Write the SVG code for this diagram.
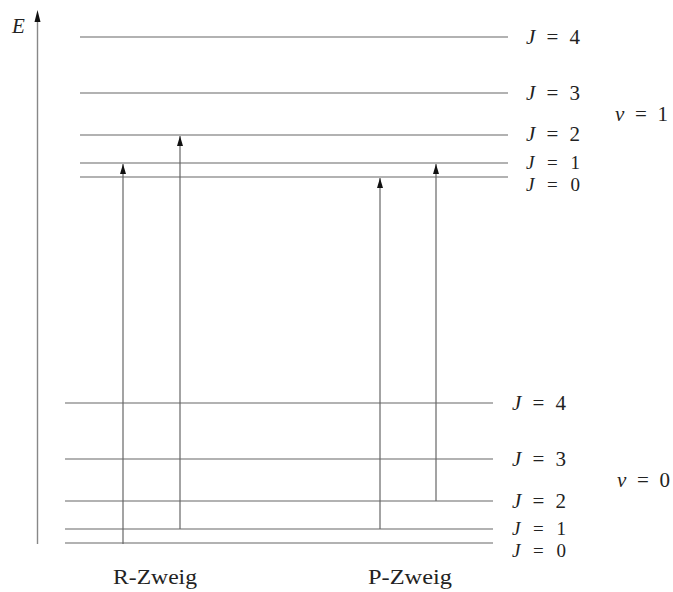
<svg xmlns="http://www.w3.org/2000/svg" width="673" height="592" viewBox="0 0 673 592">
<style>
.lv{stroke:#999;stroke-width:1.6;fill:none}
.lt{stroke:#666;stroke-width:1.1;fill:none}
.ar{stroke:#666;stroke-width:1.2;fill:none}
text{font-family:"Liberation Serif","DejaVu Serif",serif;font-size:21px;fill:#222}
.s{font-size:19px}
.i{font-style:italic}
</style>
<defs>
<marker id="ah" viewBox="0 0 10 6" markerWidth="10" markerHeight="6" refX="10" refY="3" orient="auto" markerUnits="userSpaceOnUse">
<path d="M0,0 L10,3 L0,6 Z" fill="#111"/>
</marker>
</defs>
<rect width="673" height="592" fill="#fff"/>
<g id="axis">
<line x1="37.5" y1="544" x2="37.5" y2="22" stroke="#888" stroke-width="1.4"/>
<path d="M34.5,22 L37.5,10 L40.5,22 Z" fill="#111"/>
<text x="12" y="33" class="i">E</text>
</g>
<g id="upper">
<line class="lv" x1="80" y1="37" x2="508" y2="37"/>
<line class="lv" x1="80" y1="93" x2="508" y2="93"/>
<line class="lv" x1="80" y1="135" x2="508" y2="135"/>
<line class="lv" x1="80" y1="163" x2="508" y2="163"/>
<line class="lt" x1="80" y1="177" x2="508" y2="177"/>
<text x="526" y="44" textLength="54" lengthAdjust="spacing"><tspan class="i">J</tspan> = 4</text>
<text x="526" y="100" textLength="54" lengthAdjust="spacing"><tspan class="i">J</tspan> = 3</text>
<text x="526" y="141" textLength="54" lengthAdjust="spacing"><tspan class="i">J</tspan> = 2</text>
<text class="s" x="526" y="169" textLength="54" lengthAdjust="spacing"><tspan class="i">J</tspan> = 1</text>
<text class="s" x="526" y="191" textLength="54" lengthAdjust="spacing"><tspan class="i">J</tspan> = 0</text>
<text x="615" y="121" textLength="53" lengthAdjust="spacing"><tspan class="i">v</tspan> = 1</text>
</g>
<g id="lower">
<line class="lt" x1="65" y1="403" x2="493" y2="403"/>
<line class="lt" x1="65" y1="459" x2="493" y2="459"/>
<line class="lt" x1="65" y1="501" x2="493" y2="501"/>
<line class="lv" x1="65" y1="529" x2="493" y2="529"/>
<line class="lv" x1="65" y1="543" x2="493" y2="543"/>
<text x="512" y="410" textLength="54" lengthAdjust="spacing"><tspan class="i">J</tspan> = 4</text>
<text x="512" y="466" textLength="54" lengthAdjust="spacing"><tspan class="i">J</tspan> = 3</text>
<text x="512" y="508" textLength="54" lengthAdjust="spacing"><tspan class="i">J</tspan> = 2</text>
<text class="s" x="512" y="535" textLength="54" lengthAdjust="spacing"><tspan class="i">J</tspan> = 1</text>
<text class="s" x="512" y="557" textLength="54" lengthAdjust="spacing"><tspan class="i">J</tspan> = 0</text>
<text x="617" y="487" textLength="53" lengthAdjust="spacing"><tspan class="i">v</tspan> = 0</text>
</g>
<g id="connectors">
<line class="ar" x1="123" y1="544" x2="123" y2="164" marker-end="url(#ah)"/>
<line class="ar" x1="180" y1="529" x2="180" y2="136" marker-end="url(#ah)"/>
<line class="ar" x1="380" y1="529" x2="380" y2="178" marker-end="url(#ah)"/>
<line class="ar" x1="436" y1="501" x2="436" y2="164" marker-end="url(#ah)"/>
</g>
<g id="labels">
<text x="113" y="584" textLength="84" lengthAdjust="spacingAndGlyphs">R-Zweig</text>
<text x="368" y="584" textLength="84" lengthAdjust="spacingAndGlyphs">P-Zweig</text>
</g>
</svg>
